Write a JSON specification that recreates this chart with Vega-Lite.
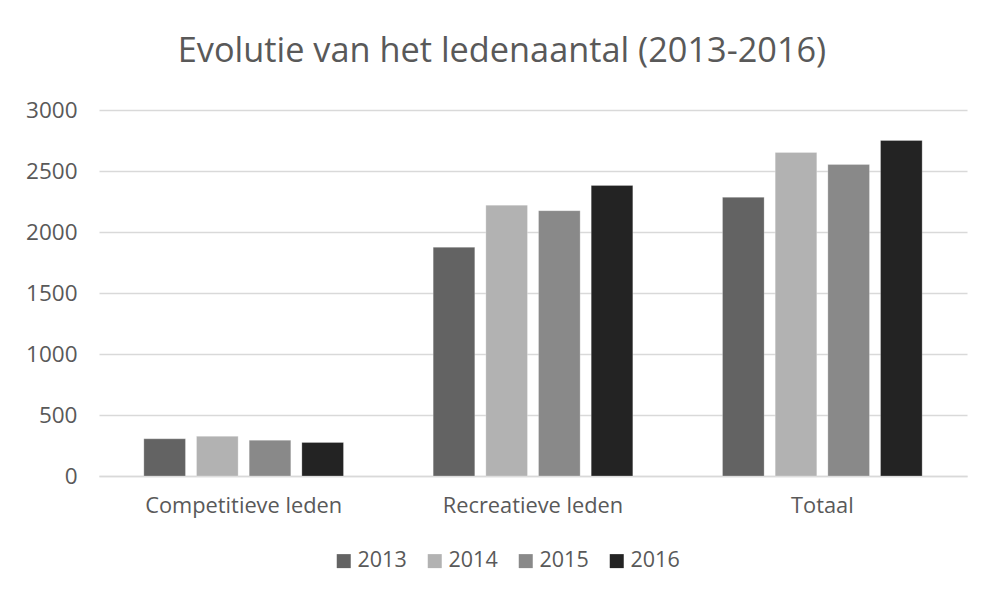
{
  "$schema": "https://vega.github.io/schema/vega-lite/v6.json",
  "autosize": {"type": "none"},
  "padding": {"left": 99, "top": 110, "right": 19, "bottom": 123},
  "width": 868,
  "height": 366,
  "background": "white",
  "title": {
    "text": "Evolutie van het ledenaantal (2013-2016)",
    "font": "Open Sans",
    "fontSize": 34.3,
    "fontWeight": "normal",
    "color": "#595959",
    "anchor": "middle",
    "frame": "group",
    "dx": -31,
    "offset": 30
  },
  "data": {
    "values": [
      {"categorie": "Competitieve leden", "jaar": "2013", "leden": 305},
      {"categorie": "Competitieve leden", "jaar": "2014", "leden": 325},
      {"categorie": "Competitieve leden", "jaar": "2015", "leden": 293},
      {"categorie": "Competitieve leden", "jaar": "2016", "leden": 275},
      {"categorie": "Recreatieve leden", "jaar": "2013", "leden": 1875},
      {"categorie": "Recreatieve leden", "jaar": "2014", "leden": 2220},
      {"categorie": "Recreatieve leden", "jaar": "2015", "leden": 2175},
      {"categorie": "Recreatieve leden", "jaar": "2016", "leden": 2382},
      {"categorie": "Totaal", "jaar": "2013", "leden": 2284},
      {"categorie": "Totaal", "jaar": "2014", "leden": 2652},
      {"categorie": "Totaal", "jaar": "2015", "leden": 2554},
      {"categorie": "Totaal", "jaar": "2016", "leden": 2750}
    ]
  },
  "mark": {"type": "bar", "stroke": "#ffffff", "strokeOpacity": 0.25, "strokeWidth": 1},
  "encoding": {
    "x": {
      "field": "categorie",
      "type": "nominal",
      "sort": null,
      "scale": {"paddingInner": 0.31, "paddingOuter": 0.155},
      "axis": {
        "title": null,
        "labelAngle": 0,
        "labelLimit": 0,
        "labelFont": "Open Sans",
        "labelFontSize": 21.8,
        "labelColor": "#595959",
        "labelPadding": 19,
        "ticks": false,
        "domainColor": "#d9d9d9",
        "domainWidth": 1.5
      }
    },
    "xOffset": {
      "field": "jaar",
      "type": "nominal",
      "scale": {"paddingInner": 0.21, "paddingOuter": 0}
    },
    "y": {
      "field": "leden",
      "type": "quantitative",
      "scale": {"domain": [0, 3000]},
      "axis": {
        "title": null,
        "values": [0, 500, 1000, 1500, 2000, 2500, 3000],
        "labelFont": "Open Sans",
        "labelFontSize": 22.5,
        "labelColor": "#595959",
        "labelPadding": 22,
        "ticks": false,
        "domain": false,
        "gridColor": "#d9d9d9",
        "gridWidth": 1.5,
        "format": "d"
      }
    },
    "color": {
      "field": "jaar",
      "type": "nominal",
      "scale": {"domain": ["2013", "2014", "2015", "2016"], "range": ["#636363", "#b2b2b2", "#898989", "#232323"]},
      "legend": {
        "title": null,
        "orient": "none",
        "direction": "horizontal",
        "legendX": 234,
        "legendY": 440,
        "symbolType": "square",
        "symbolSize": 196,
        "symbolStrokeWidth": 0,
        "labelFont": "Open Sans",
        "labelFontSize": 21.5,
        "labelColor": "#595959",
        "labelOffset": 3,
        "columnPadding": 17
      }
    }
  },
  "config": {"view": {"stroke": null}}
}
